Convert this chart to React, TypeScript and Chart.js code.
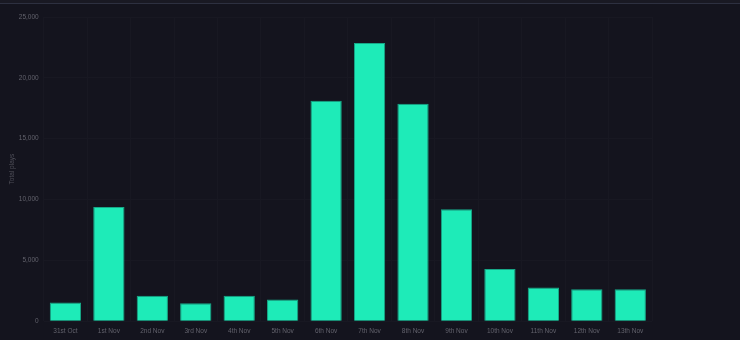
import React, { useEffect, useRef } from "react";
import { Chart, registerables } from "chart.js";

Chart.register(...registerables);

const categories = [
  "31st Oct", "1st Nov", "2nd Nov", "3rd Nov", "4th Nov", "5th Nov", "6th Nov",
  "7th Nov", "8th Nov", "9th Nov", "10th Nov", "11th Nov", "12th Nov", "13th Nov",
];
const totalPlays = [1530, 9380, 2100, 1480, 2100, 1780, 18110, 22860, 17880, 9210, 4280, 2760, 2630, 2630];
const yTicks = [0, 5000, 10000, 15000, 20000, 25000];

export default function App() {
  const ref = useRef<HTMLCanvasElement>(null);
  useEffect(() => {
    document.body.style.margin = "0";
    const ctx = ref.current!;
    const font = { family: "'Liberation Sans', Arial, sans-serif", size: 6.5 };
    const chart = new Chart(ctx, {
      type: "bar",
      data: {
        labels: categories,
        datasets: [
          {
            label: "Total plays",
            data: totalPlays,
            backgroundColor: "#1eebb8",
            borderColor: "#17a888",
            borderWidth: 1,
          },
        ],
      },
      options: {
        responsive: false,
        animation: false,
        devicePixelRatio: 1,
        layout: { padding: { left: 2, right: 88, top: 17, bottom: -1 } },
        plugins: { legend: { display: false }, tooltip: { enabled: false } },
        scales: {
          x: {
            grid: { color: "#181822", drawTicks: false },
            border: { display: false },
            ticks: { color: "#62626c", font, padding: 6, maxRotation: 0 },
          },
          y: {
            min: 0,
            max: 25000,
            afterBuildTicks: (axis: any) => {
              axis.ticks = yTicks.map((v) => ({ value: v }));
            },
            grid: { color: "#181822", drawTicks: false },
            border: { display: false },
            ticks: {
              color: "#62626c",
              font,
              padding: 5,
              callback: (v: any) => Number(v).toLocaleString("en-US"),
            },
            title: {
              display: true,
              text: "Total plays",
              color: "#4e4e58",
              font,
              padding: { top: 6, bottom: -2 },
            },
          },
        },
      },
    });
    return () => chart.destroy();
  }, []);
  return (
    <div style={{ position: "relative", width: 740, height: 340, background: "#14141e", overflow: "hidden" }}>
      <div style={{ position: "absolute", left: 0, top: 0, width: 740, height: 3, background: "#191923", borderBottom: "1px solid #2d3040" }} />
      <canvas ref={ref} width={740} height={340} style={{ display: "block" }} />
    </div>
  );
}
